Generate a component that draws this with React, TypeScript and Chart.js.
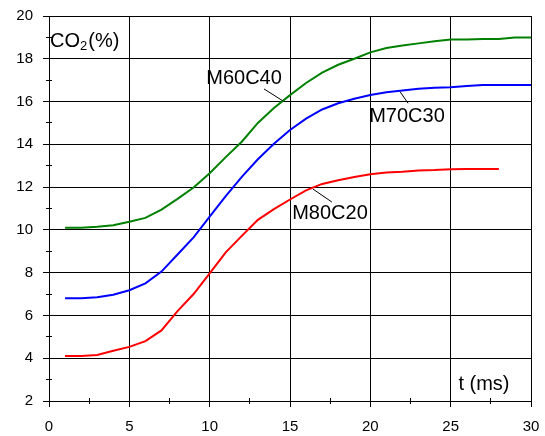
import React, { useEffect, useRef } from "react";
import { Chart, registerables } from "chart.js";

Chart.register(...registerables);

// Time axis (ms) and CO2 concentration (%) for the three mixtures
const times = [1, 2, 3, 4, 5, 6, 7, 8, 9, 10, 11, 12, 13, 14, 15, 16, 17, 18, 19, 20, 21, 22, 23, 24, 25, 26, 27, 28, 29, 30];
const co2M60C40 = [10.1, 10.1, 10.15, 10.22, 10.38, 10.56, 10.95, 11.45, 11.98, 12.65, 13.4, 14.12, 15.0, 15.7, 16.3, 16.87, 17.35, 17.72, 18.0, 18.3, 18.5, 18.62, 18.72, 18.82, 18.9, 18.9, 18.92, 18.93, 19.0, 19.0];
const co2M70C30 = [6.8, 6.8, 6.85, 6.97, 7.18, 7.5, 8.05, 8.85, 9.65, 10.62, 11.58, 12.48, 13.3, 14.03, 14.67, 15.2, 15.63, 15.92, 16.13, 16.31, 16.44, 16.52, 16.6, 16.65, 16.67, 16.73, 16.77, 16.77, 16.77, 16.77];
const co2M80C20 = [4.1, 4.1, 4.15, 4.35, 4.53, 4.8, 5.3, 6.2, 7.0, 7.97, 8.95, 9.72, 10.47, 10.97, 11.42, 11.85, 12.15, 12.32, 12.47, 12.6, 12.68, 12.72, 12.78, 12.8, 12.84, 12.85, 12.85, 12.85];

const seriesNames = ["M60C40", "M70C30", "M80C20"];
const seriesColors = ["#008000", "#0000ff", "#ff0000"];

const xTickValues = [0, 5, 10, 15, 20, 25, 30];
const yTickValues = [2, 4, 6, 8, 10, 12, 14, 16, 18, 20];

const yAxisTitle = ["CO", "2", "(%)"];
const xAxisTitle = "t (ms)";

const FONT = "'Liberation Sans', Arial, Helvetica, sans-serif";

const toPoints = (ys: number[]) => ys.map((y, i) => ({ x: times[i], y }));

// Curve labels with a short leader line; anchors in data units (t, %)
const curveNotes = [
  { name: seriesNames[0], text: [12.14, 16.84], from: [13.38, 16.59], to: [14.56, 16.03] },
  { name: seriesNames[1], text: [22.28, 15.03], from: [21.85, 16.46], to: [22.35, 15.92] },
  { name: seriesNames[2], text: [17.49, 10.5], from: [16.43, 11.91], to: [17.61, 11.3] },
];

const decorPlugin = {
  id: "decor",
  afterDraw(chart: any) {
    const { ctx, chartArea } = chart;
    const xs = chart.scales.x;
    const ys = chart.scales.y;
    const crisp = (p: number) => Math.round(p - 0.5) + 0.5;
    ctx.save();
    ctx.strokeStyle = "#000";
    ctx.lineWidth = 1;
    ctx.beginPath();
    // major and minor ticks on the value axis
    for (let i = 0; i < yTickValues.length; i++) {
      const py = crisp(ys.getPixelForValue(yTickValues[i]));
      ctx.moveTo(chartArea.left - 6, py);
      ctx.lineTo(chartArea.left, py);
      if (i < yTickValues.length - 1) {
        const mid = (yTickValues[i] + yTickValues[i + 1]) / 2;
        const pm = crisp(ys.getPixelForValue(mid));
        ctx.moveTo(chartArea.left - 3, pm);
        ctx.lineTo(chartArea.left + 3, pm);
      }
    }
    // major and minor ticks on the time axis
    for (let i = 0; i < xTickValues.length; i++) {
      const px = crisp(xs.getPixelForValue(xTickValues[i]));
      ctx.moveTo(px, chartArea.bottom);
      ctx.lineTo(px, chartArea.bottom + 6);
      if (i < xTickValues.length - 1) {
        const mid = (xTickValues[i] + xTickValues[i + 1]) / 2;
        const pm = crisp(xs.getPixelForValue(mid));
        ctx.moveTo(pm, chartArea.bottom - 3);
        ctx.lineTo(pm, chartArea.bottom + 3);
      }
    }
    // leader lines
    for (const n of curveNotes) {
      ctx.moveTo(xs.getPixelForValue(n.from[0]), ys.getPixelForValue(n.from[1]));
      ctx.lineTo(xs.getPixelForValue(n.to[0]), ys.getPixelForValue(n.to[1]));
    }
    ctx.stroke();

    ctx.fillStyle = "#000";
    ctx.textBaseline = "alphabetic";
    ctx.textAlign = "center";
    ctx.font = `20px ${FONT}`;
    for (const n of curveNotes) {
      ctx.fillText(n.name, xs.getPixelForValue(n.text[0]), ys.getPixelForValue(n.text[1]));
    }
    ctx.fillText(xAxisTitle, xs.getPixelForValue(27.07), ys.getPixelForValue(2.51));

    // CO2(%) with subscript
    ctx.textAlign = "left";
    let tx = chartArea.left + 1;
    const base = ys.getPixelForValue(18.56);
    ctx.font = `20px ${FONT}`;
    ctx.fillText(yAxisTitle[0], tx, base);
    tx += ctx.measureText(yAxisTitle[0]).width;
    ctx.font = `13px ${FONT}`;
    ctx.fillText(yAxisTitle[1], tx, base + 3);
    tx += ctx.measureText(yAxisTitle[1]).width + 1;
    ctx.font = `20px ${FONT}`;
    ctx.fillText(yAxisTitle[2], tx, base);
    ctx.restore();
  },
};

export default function App() {
  const canvasRef = useRef<HTMLCanvasElement | null>(null);

  useEffect(() => {
    const canvas = canvasRef.current;
    if (!canvas) return;
    const chart = new Chart(canvas, {
      type: "line",
      data: {
        datasets: [co2M60C40, co2M70C30, co2M80C20].map((d, i) => ({
          label: seriesNames[i],
          data: toPoints(d),
          borderColor: seriesColors[i],
          backgroundColor: seriesColors[i],
          borderWidth: 2,
          pointRadius: 0,
          tension: 0,
          fill: false,
        })),
      },
      options: {
        responsive: false,
        animation: false,
        devicePixelRatio: 1,
        layout: { padding: { top: 16, right: 14, left: 0, bottom: 0 } },
        plugins: { legend: { display: false }, tooltip: { enabled: false } },
        scales: {
          x: {
            type: "linear",
            min: xTickValues[0],
            max: xTickValues[xTickValues.length - 1],
            afterBuildTicks: (s: any) => {
              s.ticks = xTickValues.map((v) => ({ value: v }));
            },
            afterFit: (s: any) => {
              s.height = 35;
              s.paddingLeft = 0;
              s.paddingRight = 0;
            },
            grid: { color: "#000", lineWidth: 1, drawTicks: false },
            border: { color: "#000", width: 1 },
            ticks: {
              color: "#000",
              padding: 17,
              maxRotation: 0,
              autoSkip: false,
              font: { family: FONT, size: 15 },
            },
          },
          y: {
            type: "linear",
            min: yTickValues[0],
            max: yTickValues[yTickValues.length - 1],
            afterBuildTicks: (s: any) => {
              s.ticks = yTickValues.map((v) => ({ value: v }));
            },
            afterFit: (s: any) => {
              s.width = 49;
              s.paddingTop = 0;
              s.paddingBottom = 0;
            },
            grid: { color: "#000", lineWidth: 1, drawTicks: false },
            border: { color: "#000", width: 1 },
            ticks: {
              color: "#000",
              padding: 16,
              autoSkip: false,
              font: { family: FONT, size: 15 },
            },
          },
        },
      },
      plugins: [decorPlugin],
    });
    return () => chart.destroy();
  }, []);

  return (
    <div style={{ position: "fixed", left: 0, top: 0, width: 545, height: 436, background: "#fff" }}>
      <canvas ref={canvasRef} width={545} height={436} style={{ display: "block" }} />
    </div>
  );
}
